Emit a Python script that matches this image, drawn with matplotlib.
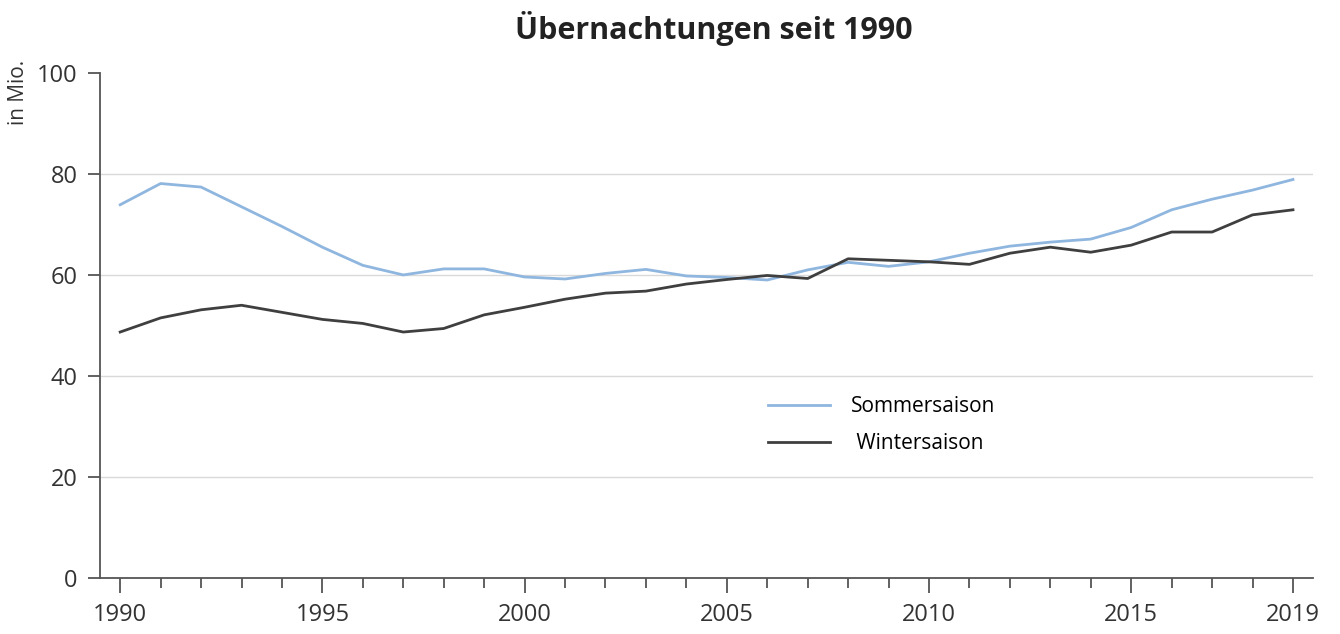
import numpy as np
import matplotlib.pyplot as plt
from matplotlib.ticker import MultipleLocator

plt.rcParams['font.family'] = ['Open Sans', 'DejaVu Sans']

years = np.arange(1990, 2020)
sommer = [73.9, 78.1, 77.4, 73.5, 69.6, 65.5, 61.9, 60.0, 61.2, 61.2,
          59.6, 59.2, 60.3, 61.1, 59.8, 59.5, 59.0, 61.0, 62.5, 61.7,
          62.6, 64.3, 65.7, 66.5, 67.1, 69.4, 72.9, 75.0, 76.8, 78.9]
winter = [48.7, 51.5, 53.1, 54.0, 52.6, 51.2, 50.4, 48.7, 49.4, 52.1,
          53.6, 55.2, 56.4, 56.8, 58.2, 59.1, 59.9, 59.3, 63.2, 62.9,
          62.6, 62.1, 64.3, 65.5, 64.5, 65.9, 68.5, 68.5, 71.9, 72.9]
xticks = [1990, 1995, 2000, 2005, 2010, 2015, 2019]
yticks = [0, 20, 40, 60, 80, 100]

fig = plt.figure(figsize=(13.4, 6.34), dpi=100)
ax = fig.add_axes([0.0746, 0.0883, 0.9054, 0.7967])

ax.plot(years, sommer, color="#8fb6df", lw=2, label="Sommersaison")
ax.plot(years, winter, color="#3f3f3f", lw=2, label=" Wintersaison")

ax.set_xlim(1989.5, 2019.5)
ax.set_ylim(0, 100)
ax.set_xticks(xticks)
ax.xaxis.set_minor_locator(MultipleLocator(1))
ax.set_yticks(yticks)
for y in yticks[1:-1]:
    ax.axhline(y, color="#d9d9d9", lw=1, zorder=0)

for s in ["top", "right"]:
    ax.spines[s].set_visible(False)
for s in ["left", "bottom"]:
    ax.spines[s].set_color("#555555")
    ax.spines[s].set_linewidth(1.3)

ax.tick_params(axis="x", which="major", length=11, width=1.3, color="#555555",
               labelsize=17, pad=7, labelcolor="#333333")
ax.tick_params(axis="x", which="minor", length=7, width=1.3, color="#555555")
ax.tick_params(axis="y", length=9, width=1.3, color="#555555",
               labelsize=17, pad=7, labelcolor="#333333")

fig.text(0.006, 0.905, "in Mio.", rotation=90, ha="left", va="top",
         fontsize=15, color="#333333")
fig.text(0.533, 0.955, "Übernachtungen seit 1990", ha="center", va="center",
         fontsize=22, fontweight="bold", color="#222222")

ax.legend(loc="upper left", bbox_to_anchor=(0.535, 0.397), frameon=False,
          fontsize=15, handlelength=3.0, handletextpad=1.0, labelspacing=0.75)

plt.savefig("out.png")
